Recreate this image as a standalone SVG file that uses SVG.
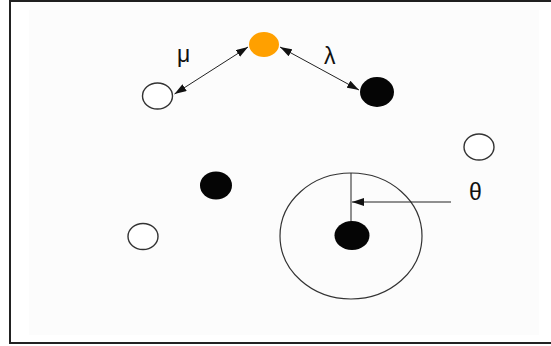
<svg xmlns="http://www.w3.org/2000/svg" width="551" height="346" viewBox="0 0 551 346">
  <style>
    .frame { fill: #ffffff; stroke: #222222; stroke-width: 2; }
    .panel { fill: #fcfcfc; stroke: none; }
    .open { fill: #ffffff; stroke: #333333; stroke-width: 1.4; }
    .solid { fill: #050505; stroke: none; }
    .focus { fill: #ffa000; stroke: none; }
    .range { fill: none; stroke: #333333; stroke-width: 1.2; }
    .link { fill: none; stroke: #222222; stroke-width: 1; }
    .label { font-family: "Liberation Sans", Arial, sans-serif; font-size: 23px; fill: #111111; }
  </style>
  <defs>
    <marker id="head" viewBox="0 0 12 8" refX="12" refY="4" markerWidth="12" markerHeight="8" markerUnits="userSpaceOnUse" orient="auto-start-reverse">
      <path d="M0,0 L12,4 L0,8 Z" fill="#111111"/>
    </marker>
  </defs>

  <!-- frame -->
  <rect class="frame" x="10" y="1" width="560" height="342"/>
  <rect class="panel" x="29" y="10" width="510" height="325"/>

  <!-- nodes -->
  <g id="focus-node"><ellipse class="focus" cx="264" cy="44.5" rx="15" ry="12.5"/></g>
  <g id="open-top-left"><ellipse class="open" cx="157.5" cy="96" rx="15" ry="13"/></g>
  <g id="solid-top-right"><ellipse class="solid" cx="377" cy="92" rx="17" ry="15"/></g>
  <g id="open-right"><ellipse class="open" cx="479" cy="147" rx="15" ry="13"/></g>
  <g id="solid-mid-left"><ellipse class="solid" cx="216" cy="185.5" rx="16" ry="14"/></g>
  <g id="open-bottom-left"><ellipse class="open" cx="143" cy="236.5" rx="15" ry="13"/></g>
  <g id="range-node">
    <ellipse class="range" cx="351" cy="236" rx="71" ry="63"/>
    <line class="link" x1="351" y1="173" x2="351" y2="222"/>
    <ellipse class="solid" cx="352" cy="235.5" rx="17.5" ry="14.5"/>
  </g>

  <!-- connectors -->
  <g id="connectors">
    <line class="link" x1="174.5" y1="94" x2="248" y2="47" marker-start="url(#head)" marker-end="url(#head)"/>
    <line class="link" x1="280" y1="47" x2="359" y2="90" marker-start="url(#head)" marker-end="url(#head)"/>
    <line class="link" x1="451" y1="202" x2="352" y2="202" marker-end="url(#head)"/>
  </g>

  <!-- labels -->
  <text class="label" x="177" y="62">μ</text>
  <text class="label" x="324" y="64">λ</text>
  <text class="label" x="469" y="200">θ</text>
</svg>
